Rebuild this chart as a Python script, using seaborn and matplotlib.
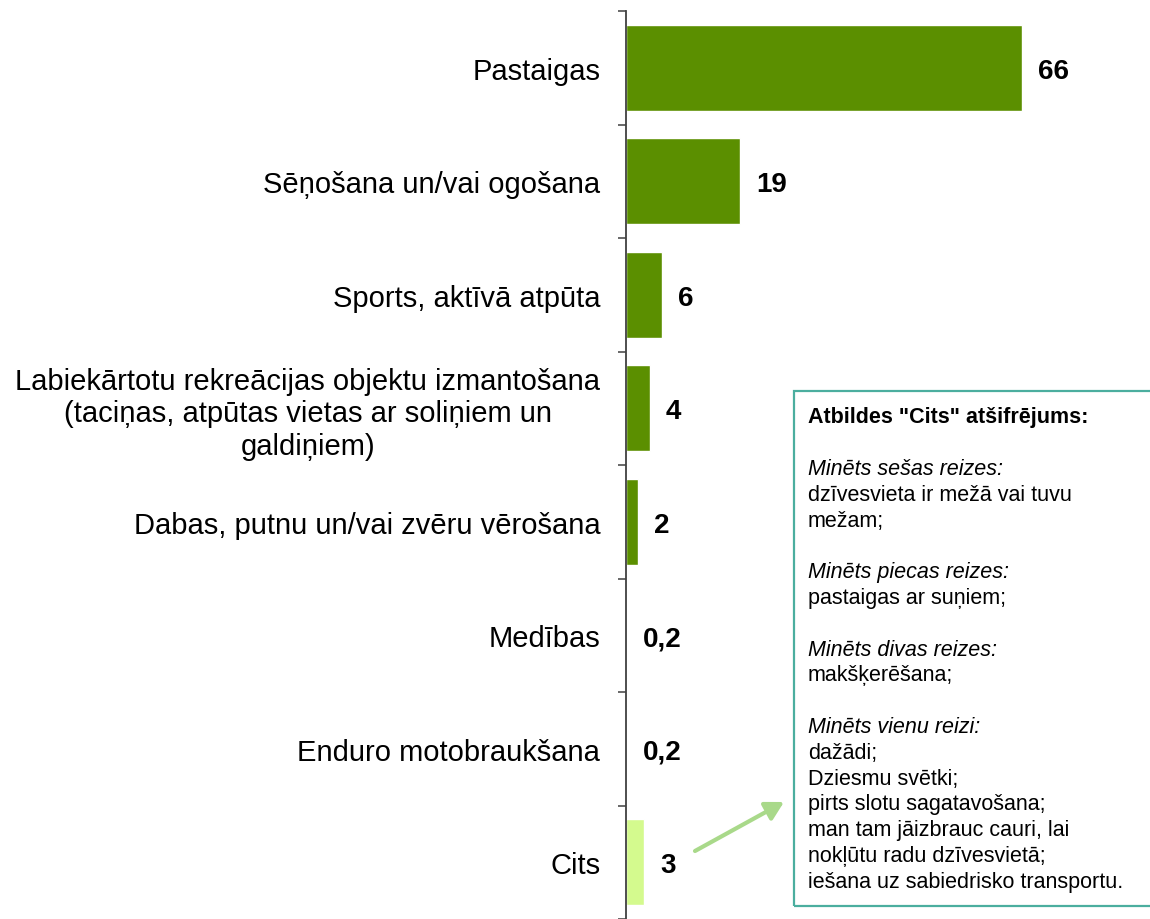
import numpy as np
import pandas as pd
import matplotlib
matplotlib.use("Agg")
import matplotlib.pyplot as plt
from matplotlib.patches import Rectangle
import seaborn as sns

sns.set_theme(style="white")
plt.rcParams["font.family"] = ["Liberation Sans", "DejaVu Sans"]

# ----------------------------------------------------------
# Data
# ----------------------------------------------------------
categories = [
    "Pastaigas",
    "Sēņošana un/vai ogošana",
    "Sports, aktīvā atpūta",
    "Labiekārtotu rekreācijas objektu izmantošana\n(taciņas, atpūtas vietas ar soliņiem un\ngaldiņiem)",
    "Dabas, putnu un/vai zvēru vērošana",
    "Medības",
    "Enduro motobraukšana",
    "Cits",
]
values = [66, 19, 6, 4, 2, 0.2, 0.2, 3]
value_labels = ["66", "19", "6", "4", "2", "0,2", "0,2", "3"]
bar_colors = ["#5B8F00"] * 7 + ["#D4FA8E"]

# note box text: (text, style)
note_lines = [
    ('Atbildes "Cits" atšifrējums:', "bold"),
    ("", "normal"),
    ("Minēts sešas reizes:", "italic"),
    ("dzīvesvieta ir mežā vai tuvu", "normal"),
    ("mežam;", "normal"),
    ("", "normal"),
    ("Minēts piecas reizes:", "italic"),
    ("pastaigas ar suņiem;", "normal"),
    ("", "normal"),
    ("Minēts divas reizes:", "italic"),
    ("makšķerēšana;", "normal"),
    ("", "normal"),
    ("Minēts vienu reizi:", "italic"),
    ("dažādi;", "normal"),
    ("Dziesmu svētki;", "normal"),
    ("pirts slotu sagatavošana;", "normal"),
    ("man tam jāizbrauc cauri, lai", "normal"),
    ("nokļūtu radu dzīvesvietā;", "normal"),
    ("iešana uz sabiedrisko transportu.", "normal"),
]

df = pd.DataFrame({"cat": categories, "val": values})

W, H = 1150, 920
fig = plt.figure(figsize=(W / 100, H / 100), dpi=100)
ax = fig.add_axes([626 / W, 0, 524 / W, 908 / H])

sns.barplot(data=df, x="val", y="cat", hue="cat", palette=bar_colors,
            legend=False, width=0.76, orient="h", saturation=1, ax=ax)

ax.set_xlim(0, 524 / 6)
ax.set_ylim(len(categories) - 0.5, -0.5)
ax.set_xlabel("")
ax.set_ylabel("")
ax.set_xticks([])

for c, lab in zip(ax.containers, [[l] for l in value_labels]):
    texts = ax.bar_label(c, labels=lab, padding=11.5, fontsize=20,
                         fontweight="bold", color="black")
    for t in texts:
        t.set_va("center_baseline")

# spines and ticks
for s in ["top", "right", "bottom"]:
    ax.spines[s].set_visible(False)
ax.spines["left"].set_color("#404040")
ax.spines["left"].set_linewidth(1.3)

ax.set_yticks(np.arange(len(categories)))
ax.set_yticklabels(categories, fontsize=21, color="black")
for lbl in ax.get_yticklabels():
    lbl.set_multialignment("center")
ax.tick_params(axis="y", which="major", length=0, pad=18.5)
ax.set_yticks(np.arange(len(categories) + 1) - 0.5, minor=True)
ax.tick_params(axis="y", which="minor", length=6, width=1.1, color="#404040",
               direction="out", left=True)

# note box
box = Rectangle((794 / W, 1 - 907 / H), 370 / W, 515 / H,
                transform=fig.transFigure, fill=False, edgecolor="#4BAE9F",
                linewidth=1.6, clip_on=False)
fig.add_artist(box)

y0, step = 418, 25.8
for i, (txt, st) in enumerate(note_lines):
    if not txt:
        continue
    kw = {"fontsize": 15.5}
    if st == "bold":
        kw["fontweight"] = "bold"
    elif st == "italic":
        kw["fontstyle"] = "italic"
    fig.text(808 / W, 1 - (y0 + i * step) / H, txt, va="center", ha="left",
             color="black", **kw)

# arrow from "Cits" value to the box
ax.annotate("", xy=(784 / W, 1 - 803 / H), xytext=(695 / W, 1 - 852 / H),
            xycoords="figure fraction", textcoords="figure fraction",
            arrowprops=dict(arrowstyle="-|>,head_length=0.9,head_width=0.5",
                            color="#A9D98A", lw=3, shrinkA=0, shrinkB=0))

fig.savefig("out.png", dpi=100)
